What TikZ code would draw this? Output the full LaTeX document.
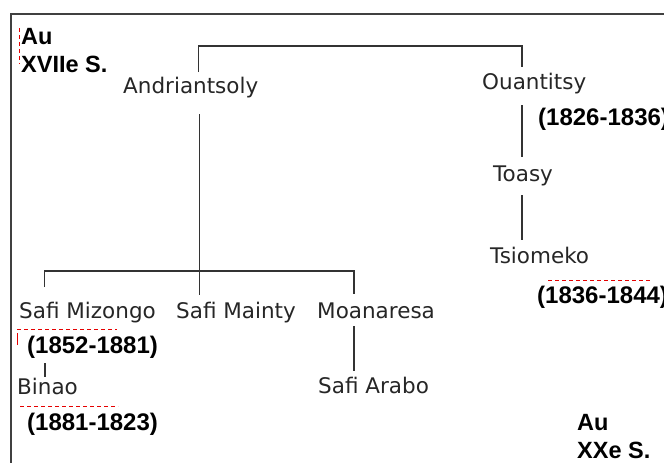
\documentclass[tikz,border=0pt]{standalone}
\usepackage{fontspec}
\setmainfont{Liberation Sans}
\newfontfamily\namefont{DejaVu Sans}
\begin{document}
\begin{tikzpicture}[x=1pt,y=-1pt,
  person/.style={anchor=base west,inner sep=0pt,text=black!85,
    font=\namefont\fontsize{21.5}{26}\selectfont},
  reign/.style={anchor=base west,inner sep=0pt,
    font=\bfseries\fontsize{24}{28}\selectfont},
  era/.style={anchor=base west,inner sep=0pt,align=left,
    font=\bfseries\fontsize{23.5}{28}\selectfont},
  link/.style={draw=black!80,line width=1.4pt},
  outline/.style={draw=black!75,line width=2pt},
  spellmark/.style={draw=red!90!black,line width=1pt,dash pattern=on 4pt off 3pt}]
\useasboundingbox (0,0) rectangle (664,463);

% frame, open to the right and below
\begin{scope}
  \clip (0,0) rectangle (664,463);
  \draw[outline] (10.5,13.5) rectangle (700,500);
\end{scope}

% people
\node[person] (andri)  at (123,93)  {Andriantsoly};
\node[person] (ouan)   at (482,89)  {Ouantitsy};
\node[person] (toasy)  at (493,181) {Toasy};
\node[person] (tsio)   at (490,263) {Tsiomeko};
\node[person] (mizo)   at (19,318)  {Safi Mizongo};
\node[person] (mainty) at (176,318) {Safi Mainty};
\node[person] (moan)   at (317,318) {Moanaresa};
\node[person] (binao)  at (17,394)  {Binao};
\node[person] (arabo)  at (318,393) {Safi Arabo};

% reigns
\node[reign] (r1) at (538,125) {(1826-1836)};
\node[reign] (r2) at (537,303) {(1836-1844)};
\node[reign] (r3) at (27,353)  {(1852-1881)};
\node[reign] (r4) at (27,430)  {(1881-1823)};

% periods (base anchor sits on the last line)
\node[era] (e1) at (21,72)  {Au\\XVIIe S.};
\node[era] (e2) at (577,458) {Au\\XXe S.};

% connector ends
\coordinate (andri-up)   at (198.5,72);
\coordinate (ouan-up)    at (522,67);
\coordinate (top-bar)    at (198.5,46);
\coordinate (andri-down) at (199.5,114);
\coordinate (mainty-up)  at (199.5,295);
\coordinate (kids-bar)   at (44.5,271);
\coordinate (mizo-up)    at (44.5,287);
\coordinate (moan-up)    at (354,294);
\coordinate (moan-down)  at (354,326);
\coordinate (arabo-up)   at (354,371);
\coordinate (mizo-down)  at (45,363);
\coordinate (binao-up)   at (45,377);
\coordinate (ouan-down)  at (522,105);
\coordinate (toasy-up)   at (522,157);
\coordinate (toasy-down) at (522,195);
\coordinate (tsio-up)    at (522,240);

% family lines
\draw[link] (andri-up) -- (top-bar) -- (top-bar -| ouan-up) -- (ouan-up);
\draw[link] (andri-down) -- (mainty-up);
\draw[link] (mizo-up) -- (kids-bar) -- (kids-bar -| moan-up) -- (moan-up);
\draw[link] (moan-down) -- (arabo-up);
\draw[link] (mizo-down) -- (binao-up);
\draw[link] (ouan-down) -- (toasy-up);
\draw[link] (toasy-down) -- (tsio-up);

% red proofing marks
\draw[spellmark] (19.5,28) -- (19.5,64);
\draw[spellmark] (548,280.5) -- (650,280.5);
\draw[spellmark] (17,329.5) -- (117,329.5);
\draw[draw=red!90!black,line width=1pt] (17,333) -- (17,345);
\draw[spellmark] (20,406.5) -- (118,406.5);
\end{tikzpicture}
\end{document}
